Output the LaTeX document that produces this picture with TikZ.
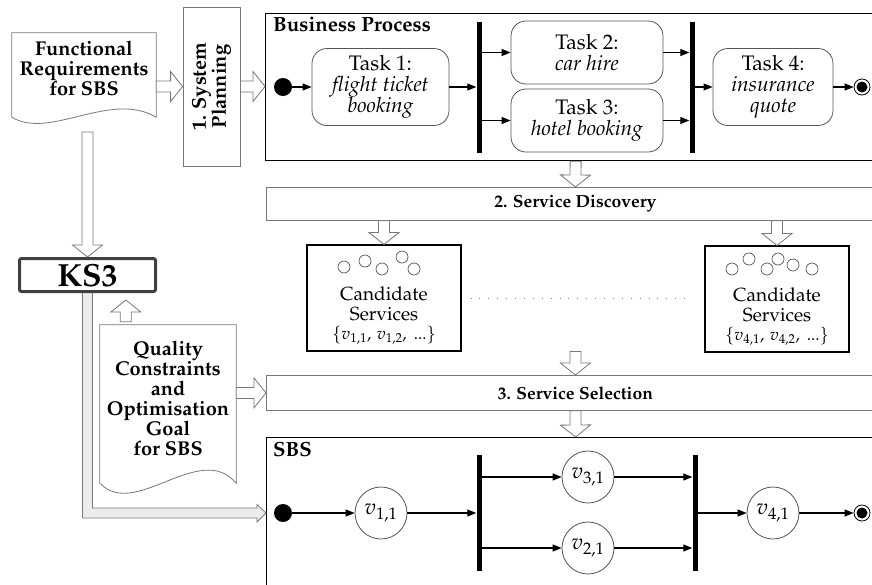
\documentclass[tikz,border=0pt]{standalone}
\usepackage[T1]{fontenc}
\usepackage{amsmath}
\usepackage{mathpazo}
\usetikzlibrary{calc,positioning,arrows.meta}

\definecolor{edgegray}{RGB}{120,120,120}
\definecolor{taskgray}{RGB}{85,85,85}
\definecolor{ksgray}{RGB}{64,64,64}
\definecolor{shadegray}{RGB}{236,236,236}

\newcommand{\bigfont}{\fontsize{20}{20}\selectfont}
\newcommand{\taskfont}{\fontsize{21}{21}\selectfont}
\newcommand{\barfont}{\fontsize{17.5}{17.5}\selectfont\bfseries}
\newcommand{\titlefont}{\fontsize{20.5}{20.5}\selectfont\bfseries}

\tikzset{
  greybox/.style={draw=edgegray, line width=0.8pt, inner sep=0pt},
  mainbox/.style={draw=black, line width=1.3pt, inner sep=0pt},
  task/.style={draw=taskgray, line width=0.8pt, rounded corners=15pt, align=center,
    inner sep=0pt, font=\taskfont},
  forkbar/.style={fill=black, inner sep=0pt, minimum width=5pt},
  initnode/.style={circle, fill=black, inner sep=0pt, minimum size=18pt},
  finalnode/.style={circle, draw=black, line width=0.8pt, fill=white, inner sep=0pt,
    minimum size=16pt,
    path picture={\fill[black] (path picture bounding box.center) circle (5.5pt);}},
  flow/.style={-{Triangle[length=9pt,width=7pt]}, line width=1.1pt},
  service/.style={circle, draw=taskgray, line width=0.8pt, inner sep=0pt,
    minimum size=52pt, font=\fontsize{22}{22}\selectfont},
  svcdot/.style={draw=taskgray, line width=0.7pt},
  doclabel/.style={font=\bigfont\bfseries, align=center, inner sep=0pt},
  candlabel/.style={font=\fontsize{19}{19.5}\selectfont, align=center, inner sep=0pt},
  hollow/.style={draw=edgegray, line width=0.8pt, fill=white, line join=miter},
}

% hollow block arrow from #2 to #3
\newcommand{\blockarrow}[3][]{%
  \path #2 coordinate (ba-s) #3 coordinate (ba-e);
  \coordinate (ba-h) at ($(ba-e)!12pt!(ba-s)$);
  \draw[hollow,#1] ($(ba-s)!5.5pt!90:(ba-e)$) -- ($(ba-h)!5.5pt!90:(ba-e)$)
    -- ($(ba-h)!15pt!90:(ba-e)$) -- (ba-e) -- ($(ba-h)!15pt!-90:(ba-e)$)
    -- ($(ba-h)!5.5pt!-90:(ba-e)$) -- ($(ba-s)!5.5pt!-90:(ba-e)$) -- cycle;}

\begin{document}
\begin{tikzpicture}[x=1pt,y=-1pt]
\useasboundingbox (0,0) rectangle (872,584);
\clip (0,0) rectangle (872,584);

% requirement documents
\node[minimum width=144pt, minimum height=84pt] (freq) at (84,75) {};
\draw[greybox, fill=white] (freq.south west) -- (freq.north west) -- (freq.north east)
  -- (freq.south east) .. controls +(-46,-27) and +(38,23) .. (freq.south west) -- cycle;
\node[doclabel] (freqtext) at (84,68) {Functional\\Requirements\\for SBS};

\node[minimum width=136pt, minimum height=158pt] (qual) at (168,404) {};
\draw[greybox, fill=white] (qual.south west) -- (qual.north west) -- (qual.north east)
  -- (qual.south east) .. controls +(-36,-43) and +(35,37) .. (qual.south west) -- cycle;
\node[doclabel] (qualtext) at (168,398) {Quality\\Constraints\\and\\Optimisation\\Goal\\for SBS};

% system planning
\node[greybox, minimum width=57pt, minimum height=159pt] (plan) at (211.5,86.5) {};
\node[doclabel, rotate=90] (plantext) at (plan.center) {1. System\\Planning};

% business process
\node[mainbox, minimum width=620pt, minimum height=147pt, anchor=north west] (bp) at (265,13) {};
\node[font=\titlefont, anchor=north west, inner sep=0pt] (bptitle) at (273,17) {Business Process};

\node[initnode] (init1) at (283,87) {};
\node[task, minimum width=137pt, minimum height=77pt] (t1) at (380.5,87)
  {Task 1:\\\textit{flight ticket}\\\textit{booking}};
\node[forkbar, minimum height=131pt] (fork1) at (479,87) {};
\node[task, minimum width=152pt, minimum height=63pt] (t2) at (587,52.5)
  {Task 2:\\\textit{car hire}};
\node[task, minimum width=152pt, minimum height=63pt] (t3) at (587,120.5)
  {Task 3:\\\textit{hotel booking}};
\node[forkbar, minimum height=131pt] (fork2) at (692,87) {};
\node[task, minimum width=120pt, minimum height=77pt] (t4) at (773,87)
  {Task 4:\\\textit{insurance}\\\textit{quote}};
\node[finalnode] (final1) at (862,87) {};

\draw[flow] (init1) -- (t1);
\draw[flow] (t1) -- (fork1);
\draw[flow] (fork1.east |- t2) -- (t2);
\draw[flow] (fork1.east |- t3) -- (t3);
\draw[flow] (t2) -- (t2 -| fork2.west);
\draw[flow] (t3) -- (t3 -| fork2.west);
\draw[flow] (fork2) -- (t4);
\draw[flow] (t4) -- (final1);

% discovery and selection
\node[greybox, minimum width=618pt, minimum height=33pt, anchor=north west, font=\barfont]
  (disc) at (266,187) {2. Service Discovery};
\node[greybox, minimum width=618pt, minimum height=35pt, anchor=north west, font=\barfont]
  (sel) at (266,375) {3. Service Selection};

% candidate services
\node[draw=black, line width=1.1pt, minimum width=154pt, minimum height=106pt] (cand1) at (384,298) {};
\node[draw=black, line width=1.1pt, minimum width=144pt, minimum height=106pt] (cand2) at (777,299) {};
\foreach \p in {(344,267),(365,261),(382,269),(402,257),(414,269),
                (732,269),(749,259),(767,269),(778,259),(793,265),(812,269)}
  \draw[svcdot] \p circle (6pt);
\node[candlabel] (cand1text) at (384,316)
  {Candidate\\Services\\{\fontsize{17}{17}\selectfont$\{v_{1,1},\, v_{1,2},\,$ ...$\}$}};
\node[candlabel] (cand2text) at (777,317)
  {Candidate\\Services\\{\fontsize{17}{17}\selectfont$\{v_{4,1},\, v_{4,2},\,$ ...$\}$}};
\draw[edgegray, line width=0.9pt, dash pattern=on 0.9pt off 8pt, shorten <=9pt, shorten >=12pt]
  (cand1) -- (cand1 -| cand2.west);

% composed service
\node[mainbox, minimum width=618pt, minimum height=170pt, anchor=north west] (sbs) at (266,437) {};
\node[font=\titlefont, anchor=north west, inner sep=0pt] (sbstitle) at (273,442) {SBS};

\node[initnode] (init2) at (283,513) {};
\node[service] (v11) at (381,513) {$v_{1,1}$};
\node[forkbar, minimum height=116pt] (fork3) at (479,513) {};
\node[service] (v31) at (588,477) {$v_{3,1}$};
\node[service] (v21) at (588,548) {$v_{2,1}$};
\node[forkbar, minimum height=116pt] (fork4) at (695,513) {};
\node[service] (v41) at (773,513) {$v_{4,1}$};
\node[finalnode] (final2) at (862,513) {};

\draw[flow] (init2) -- (v11);
\draw[flow] (v11) -- (fork3);
\draw[flow] (fork3.east |- v31) -- (v31);
\draw[flow] (fork3.east |- v21) -- (v21);
\draw[flow] (v31) -- (v31 -| fork4.west);
\draw[flow] (v21) -- (v21 -| fork4.west);
\draw[flow] (fork4) -- (v41);
\draw[flow] (v41) -- (final2);

% KS3 and its links
\coordinate (sbsin) at (sbs.west |- init2);
\draw[hollow, fill=shadegray] ($(87.5,293)+(-5,0)$) |- ($(sbsin)+(-9,5)$) -- ++(0,4)
  -- (sbsin) -- ++(-9,-8.5) -- ++(0,3.5) -| ($(87.5,293)+(5,0)$);
\node[draw=ksgray, line width=3pt, rounded corners=2pt, minimum width=136pt, minimum height=33pt,
  inner sep=0pt, font=\fontsize{32}{32}\selectfont\bfseries] (ks) at (87.5,275) {KS3};

% block arrows
\blockarrow{(freq.east |- plan)}{(plan.west)}
\blockarrow{(plan.east)}{(plan.east -| bp.west)}
\blockarrow{($(ks.north)+(0,-125)$)}{(ks.north)}
\blockarrow{($(qual.north west)+(26,-3)$)}{($(qual.north west |- ks.south)+(26,7)$)}
\blockarrow{(bp.south)}{(disc.north)}
\blockarrow{(disc.south -| cand1)}{(cand1.north)}
\blockarrow{(disc.south -| cand2)}{(cand2.north)}
\blockarrow{(sel.north |- cand1.south)}{(sel.north)}
\blockarrow{(qual.east |- sel)}{(sel.west)}
\blockarrow{(sel.south)}{(sbs.north)}
\end{tikzpicture}
\end{document}
